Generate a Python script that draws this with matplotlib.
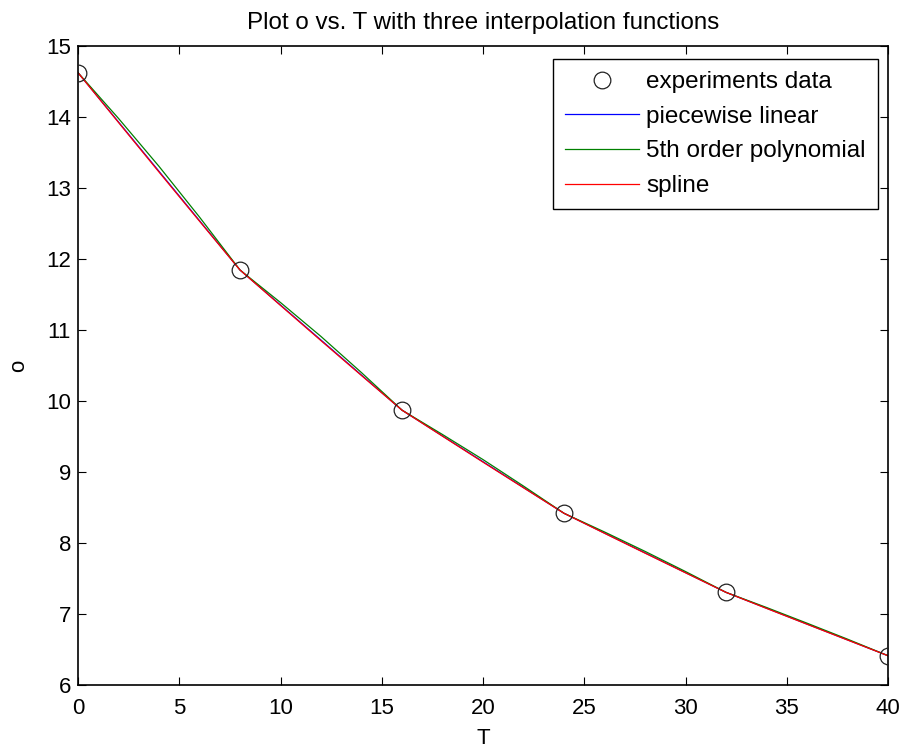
import numpy as np
import matplotlib
matplotlib.use("Agg")
import matplotlib.pyplot as plt

plt.rcParams.update({
    "font.family": ["Liberation Sans", "DejaVu Sans"],
    "font.size": 16,
})

# measured points
T_data = [0, 8, 16, 24, 32, 40]
o_data = [14.621, 11.843, 9.870, 8.418, 7.305, 6.413]

# curves, every 2 degrees
T_fine = [0, 2, 4, 6, 8, 10, 12, 14, 16, 18, 20,
          22, 24, 26, 28, 30, 32, 34, 36, 38, 40]
o_poly = [14.621, 13.977, 13.302, 12.588, 11.843, 11.385, 10.907, 10.398,
          9.870, 9.527, 9.174, 8.801, 8.418, 8.155, 7.882, 7.598,
          7.305, 7.092, 6.871, 6.646, 6.413]
o_spline = [14.621, 13.920, 13.222, 12.530, 11.843, 11.344, 10.848, 10.357,
            9.870, 9.503, 9.138, 8.777, 8.418, 8.136, 7.857, 7.580,
            7.305, 7.079, 6.856, 6.634, 6.413]

fig = plt.figure(figsize=(9.04, 7.49), dpi=100)
ax = fig.add_axes([0.0863, 0.0854, 0.896, 0.8535])

ax.plot(T_data, o_data, "o", mfc="none", mec="#222222", ms=12, mew=0.9,
        label="experiments data", zorder=5)
ax.plot(T_data, o_data, color=(0, 0, 1), lw=0.9, label="piecewise linear")
ax.plot(T_fine, o_poly, color=(0, 0.5, 0), lw=0.9, label="5th order polynomial")
ax.plot(T_fine, o_spline, color=(1, 0, 0), lw=0.9, label="spline")

ax.set_xlim(0, 40)
ax.set_ylim(6, 15)
ax.set_xticks(np.arange(0, 41, 5))
ax.set_yticks(np.arange(6, 16, 1))
ax.tick_params(direction="in", length=6, width=0.8, top=True, right=True)
ax.tick_params(axis="x", pad=9)
ax.tick_params(axis="y", pad=5)
for sp in ax.spines.values():
    sp.set_linewidth(1.2)

ax.set_xlabel("T", labelpad=7)
ax.set_ylabel("o", labelpad=12)
ax.set_title("Plot o vs. T with three interpolation functions",
             fontsize=17.4, pad=12)

leg = ax.legend(loc="upper right", bbox_to_anchor=(878 / 904, 1 - 59 / 749),
                bbox_transform=fig.transFigure, borderaxespad=0,
                fancybox=False, framealpha=1, edgecolor="black",
                fontsize=17.5, handlelength=3.05, handletextpad=0.3,
                labelspacing=0.52, borderpad=0.5)
leg.get_frame().set_linewidth(1.0)

fig.savefig("out.png", dpi=100)
